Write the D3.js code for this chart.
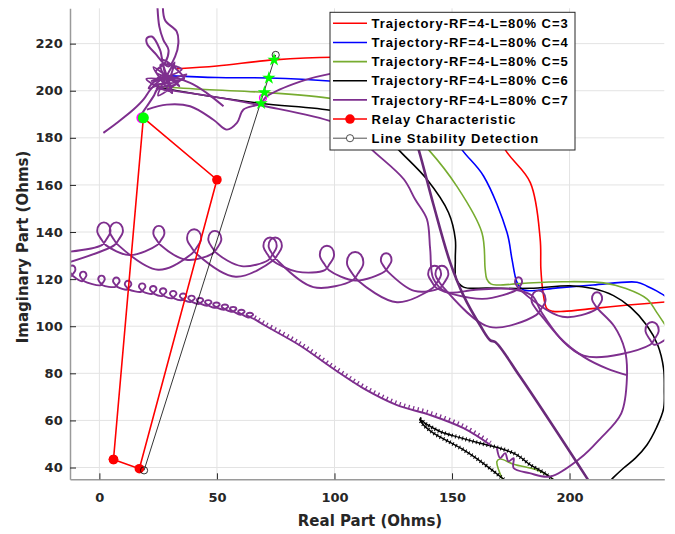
<!DOCTYPE html>
<html>
<head>
<meta charset="utf-8">
<script src="https://cdn.jsdelivr.net/npm/d3@7"></script>
<style>
  body { margin: 0; background: #fff; }
  .tick text { font-family: "DejaVu Sans", sans-serif; font-weight: bold; font-size: 13px; fill: #262626; }
  .axis-label { font-family: "DejaVu Sans", sans-serif; font-weight: bold; font-size: 15px; fill: #262626; }
  .legend text { font-family: "Liberation Sans", Arial, sans-serif; font-weight: bold; font-size: 13px; letter-spacing: 1px; fill: #000; }
</style>
</head>
<body>
<svg id="chart"></svg>
<script>
// ---- data (Real, Imag in Ohms) ----
const xTicks = [0, 50, 100, 150, 200];
const yTicks = [40, 60, 80, 100, 120, 140, 160, 180, 200, 220];

const legendLabels = [
  "Trajectory-RF=4-L=80% C=3", "Trajectory-RF=4-L=80% C=4", "Trajectory-RF=4-L=80% C=5",
  "Trajectory-RF=4-L=80% C=6", "Trajectory-RF=4-L=80% C=7",
  "Relay Characteristic", "Line Stability Detection"
];

const trajC3 = [[33,209.3],[50,210.5],[74.3,213.1],[99.5,214.2],[120,213.5],[140,210],[155,203],[165,192],
  [172.6,175],[183.3,161],[187.5,137],[187.8,124.3],[188.7,114.5],[190.4,107.4],[193,106.3],[197.4,106.3],
  [211.7,107.7],[225,109],[241,110.3]];
const trajC4 = [[30,206.3],[50,205.6],[72.1,205.4],[99.5,204],[120,202],[135,197],[146,188],[154.2,175],
  [163.4,163.8],[173.4,139.8],[175.5,128.5],[177.6,118.7],[179.5,116],[181.9,115.1],[195,116.3],[210,117.5],
  [228.7,118.7],[233,117],[237,115],[241,112.6]];
const trajC5 = [[23,202],[45,200.5],[70.2,199.3],[99.5,196.6],[115,193],[127,187],[134,181],[140,175],
  [152,159.5],[162.7,139.8],[164.1,124.3],[164.8,120],[166.5,118],[169.1,117.5],[180,118.2],[197.4,118.9],
  [214.5,118.4],[224,116],[232.9,111.6],[237,106],[241,100]];
const trajC5Tail = [[171.9,34],[169.1,42.6],[170.5,43.6],[176.2,41.4],[186.1,39],[190.4,36.9],[193,35]];
const trajC6 = [[24.4,201.6],[45,198],[68.8,194.6],[99.5,191.5],[112,188],[121,182],[127.2,175],[139.3,162.4],
  [148.5,148.3],[151.4,137],[151.4,128.5],[151.8,120],[154.9,116.6],[165,116.2],[183.3,116.1],[200.3,117.2],
  [210,116],[218.7,113],[226,108],[232.9,100.3],[237.5,92],[240,82],[240.3,73],[240,65],[237,57],
  [232.9,49.6],[228,44],[223,39.8],[218.7,35.8],[216,33]];
const trajC6Saw = [[172,35],[163,42],[154.9,47.5],[148,51.3],[142.1,54.6],[137.5,58.5],[136.3,60.6],[139,58.5],
  [144.9,55.3],[153,52.8],[162,50.3],[170,48.3],[176.2,46.1],[180,43.7],[183.3,41.1],[187,39],[190.4,36.9],[193,35]];

// C=7 pieces; a triple [x, loopTop, loopCrossing] marks a loop of the trajectory
const purpleKnot = [[24.7,235.6],[25.5,227.2],[27.2,221.6],[29.4,217.3],[28,212],[24,208],[33,204],[22,203],
  [35,209],[26,211],[30,200],[20,205],[36,205],[27,213],[31,199],[23,210],[34,202],[28,207],[21,201],[37,207],
  [25,198],[32,212],[29,204],[26.6,213.8],[25.8,217.3],[22.3,223],[20.2,222.3],[20.2,220.1],[23.7,215.9],
  [29.4,210.3],[32.2,214.5],[33.6,220.2],[32.9,225.1],[28,229.8],[27,235.6]];
const purpleLeft = [[1.7,182.1],[7.4,186.3],[14.5,192],[18.7,196.2],[21.6,200.4],[24.4,203.3],[29,206],
  [33,203],[25,201],[23,197.6],[20.2,193.4],[17.3,189.1]];
const purpleRight = [[22,204],[28.7,206],[38.6,203.3],[45.7,199],[52.8,193.4]];
const purpleA = [[20.2,192],[28.7,194.1],[38.6,193.4],[48.5,187.7],[54.2,183.5],[58.5,186.3],[61.3,192],
  [68.4,194.5],[71.2,197.6],[85.4,203.9],[99.6,207.5],[112,209],[124,203]];
const purpleThick = [[124,203],[131,190],[135.8,175],[142,152],[149.2,127.1],[154.9,113],[162,100.3],
  [166.3,94],[168.4,93.3],[179,78.5],[207.4,35.5],[209,33]];
const purpleB = [[24,201],[45,198],[70,193.5],[99.6,186.6],[110,181],[115.9,175],[129.5,162.4],[134.3,153.9],
  [139.3,145.5],[140.7,132.8],[142.1,120.1],[147.8,114.5],[160,115.5],[175,115.8],[184,113],[188,106],
  [196,95],[206,87],[216,82],[224.4,79.2]];
const purpleLoopsUpper = [[-13,131.6],[1.9,144.1,134.9],[13,130.2],[25.3,142.6,134.9],[37,128.2],
  [49.1,140.5,131.4],[60.5,125.5],[72.6,137.7,128.5],[84,123.2],[96.8,134.2,124.3],[109,119.4],
  [122,131,123.6],[134,115],[145.7,125.7,116.7],[166,99.7],[186.8,115.1,105.3],[206,87.5],
  [235.1,101.8,92.6],[241,94.5]];
const purpleLoopsLower = [[-13,127.1],[7.2,144.1,134.9],[25,124],[40.3,141.2,131.4],[58,121],
  [74.8,137.7,128.5],[91,116.6],[108.8,131.5,120.1],[126.6,110.2],[142.6,125.7,116.7],[163,111.6],
  [178.3,120.8,115.9],[197,104],[211.7,114.4,107.4],[219,100],[223.5,90],[224.4,78],[222,63],
  [213,52.2],[204.6,44],[191.8,36.2],[183,37.6],[176.2,39.8],[176.2,44],[174,42.6],[172.6,46.1],
  [170.5,44],[169.1,48.2]];
const purpleCurls = [[-13,122.8],[-11.6,125.8,121.5],[-6.9,123.2,119.3],[0.9,121.5,117.6],[7.2,120.7,116.9],
  [12.2,119.3,115.7],[18.2,118.2,114.8],[22.9,117.1,113.9],[27.1,116.1,113],[31.4,115,112],
  [35.6,113.9,111.2],[39.2,113,110.4],[42.8,112,109.6],[46.3,111.1,108.8],[49.8,110.1,107.9],
  [53.4,109.2,107.1],[56.9,108.2,106.2],[60.4,107,105],[64,105.7,103.8],[66,103]];
const purpleCurlsTail = [[66,103],[70.4,100.3],[85,92],[100,81.6],[112.3,73.6],[126.6,66.5],[140.7,62.3],
  [154.9,56.7],[166.3,49.6]];

const relayPts = [[6,43.4],[18.7,188.5],[50,162.2],[17,39.5],[6,43.4]];
const stabilityPts = [[19,38.8],[75,215.2]];
const detectPts = [[74.3,213.1],[72.1,205.4],[70.2,199.3],[68.8,194.6]];
const detectRelay = [18.7,188.5];

// ---- layout ----
const W = 675, H = 534;
const svg = d3.select("#chart").attr("width", W).attr("height", H);
const x = d3.scaleLinear().domain([-12.5, 240.3]).range([70, 664.3]);
const y = d3.scaleLinear().domain([35, 235]).range([479.3, 8.3]);

const grid = svg.append("g");
grid.selectAll("line.gx").data(xTicks).enter().append("line")
  .attr("x1", d => x(d)).attr("x2", d => x(d)).attr("y1", y(235)).attr("y2", y(35))
  .attr("stroke", "#e3e3e3").attr("stroke-width", 1);
grid.selectAll("line.gy").data(yTicks).enter().append("line")
  .attr("x1", x(-12.5)).attr("x2", x(240.3)).attr("y1", d => y(d)).attr("y2", d => y(d))
  .attr("stroke", "#e3e3e3").attr("stroke-width", 1);

svg.append("clipPath").attr("id", "clip").append("rect")
  .attr("x", 70).attr("y", 8.3).attr("width", 594.3).attr("height", 471);
const plot = svg.append("g").attr("clip-path", "url(#clip)");

const curve = d3.curveCatmullRom.alpha(0.5);
const line = d3.line().x(d => x(d[0])).y(d => y(d[1])).curve(curve);
const pxLine = d3.line().curve(curve);

// turn [x, top, crossing] entries into a drawn loop (pixel space)
function withLoops(pts) {
  const out = [];
  pts.forEach(p => {
    if (p.length === 2) { out.push([x(p[0]), y(p[1])]); return; }
    const cx = x(p[0]), ty = y(p[1]), cy = y(p[2]);
    const h = cy - ty, w = Math.max(h * 0.3, 3.2);
    out.push([cx - w * 0.3, cy + h * 0.05], [cx + w * 0.35, ty + h * 0.8], [cx + w, ty + h * 0.45],
      [cx + w * 0.7, ty + h * 0.1], [cx, ty], [cx - w * 0.7, ty + h * 0.1],
      [cx - w, ty + h * 0.45], [cx - w * 0.35, ty + h * 0.8], [cx + w * 0.3, cy + h * 0.05]);
  });
  return out;
}

function draw(data, color, width) {
  return plot.append("path").attr("d", line(data)).attr("fill", "none")
    .attr("stroke", color).attr("stroke-width", width).attr("stroke-linejoin", "round");
}
function drawLoops(data, color, width) {
  return plot.append("path").attr("d", pxLine(withLoops(data))).attr("fill", "none")
    .attr("stroke", color).attr("stroke-width", width).attr("stroke-linejoin", "round");
}

const purple = "#7E2F8E";
draw(trajC3, "#FF0000", 1.6);
draw(trajC4, "#0000FF", 1.6);
draw(trajC5, "#77AC30", 1.6);
draw(trajC5Tail, "#77AC30", 1.6);
draw(trajC6, "#000000", 1.6);
draw(trajC6Saw, "#000000", 1.4);
draw(trajC6Saw, "#000000", 4).attr("stroke-dasharray", "1,2.6");

drawLoops(purpleLoopsUpper, purple, 1.9);
drawLoops(purpleLoopsLower, purple, 1.9);
drawLoops(purpleCurls, purple, 1.9);
draw(purpleCurlsTail, purple, 1.9);
draw(purpleCurlsTail, purple, 4.5).attr("stroke-dasharray", "1.3,3.4").attr("transform", "translate(0,-2)");
draw(purpleB, purple, 1.9);
draw(purpleA, purple, 1.9);
draw(purpleThick, "#6A2A7A", 2.6);
draw(purpleRight, purple, 2);
draw(purpleLeft, purple, 2);
draw(purpleKnot, purple, 2);

// relay characteristic
const straight = d3.line().x(d => x(d[0])).y(d => y(d[1]));
plot.append("path").attr("d", straight(relayPts)).attr("fill", "none")
  .attr("stroke", "#FF0000").attr("stroke-width", 1.6);
plot.selectAll("circle.relay").data(relayPts).enter().append("circle")
  .attr("cx", d => x(d[0])).attr("cy", d => y(d[1])).attr("r", 4.8).attr("fill", "#FF0000");

// stability detection line
plot.append("path").attr("d", straight(stabilityPts)).attr("fill", "none")
  .attr("stroke", "#000").attr("stroke-width", 0.8);
plot.selectAll("circle.stab").data(stabilityPts).enter().append("circle")
  .attr("cx", d => x(d[0])).attr("cy", d => y(d[1])).attr("r", 3.6)
  .attr("fill", "none").attr("stroke", "#000").attr("stroke-width", 0.8);

// detection points
plot.append("circle").attr("cx", x(detectRelay[0]) - 1.5).attr("cy", y(detectRelay[1]))
  .attr("r", 5.5).attr("fill", "#FF00FF");
plot.append("circle").attr("cx", x(detectRelay[0])).attr("cy", y(detectRelay[1]))
  .attr("r", 5.5).attr("fill", "#00FF00");
plot.append("circle").attr("cx", x(69.6)).attr("cy", y(197)).attr("r", 3.5)
  .attr("fill", "none").attr("stroke", "#FF00FF").attr("stroke-width", 1.2);
const star = d3.symbol().type(d3.symbolStar).size(55);
plot.selectAll("path.star").data(detectPts).enter().append("path")
  .attr("d", star).attr("transform", d => `translate(${x(d[0])},${y(d[1])})`)
  .attr("fill", "#00FF00");

// axes
const xAxis = svg.append("g").attr("transform", `translate(0,${y(35)})`)
  .call(d3.axisBottom(x).tickValues(xTicks).tickSize(-6).tickSizeOuter(0).tickPadding(13.2));
const yAxis = svg.append("g").attr("transform", `translate(${x(-12.5)},0)`)
  .call(d3.axisLeft(y).tickValues(yTicks).tickSize(-6).tickSizeOuter(0).tickPadding(7.3));
[xAxis, yAxis].forEach(a => {
  a.select(".domain").attr("stroke", "#9a9a9a").attr("stroke-width", 1.5);
  a.selectAll(".tick line").attr("stroke", "#262626");
  a.attr("font-size", null).attr("font-family", null);
});

svg.append("text").attr("class", "axis-label").attr("x", 370).attr("y", 525.7)
  .attr("text-anchor", "middle").text("Real Part (Ohms)");
svg.append("text").attr("class", "axis-label").attr("text-anchor", "middle")
  .attr("transform", "translate(28,247) rotate(-90)").text("Imaginary Part (Ohms)");

// legend
const legendColors = ["#FF0000", "#0000FF", "#77AC30", "#000000", purple, "#FF0000", "#262626"];
const lg = svg.append("g").attr("class", "legend");
lg.append("rect").attr("x", 330).attr("y", 12.3).attr("width", 245).attr("height", 137.7)
  .attr("fill", "#fff").attr("stroke", "#262626").attr("stroke-width", 1);
const rows = lg.selectAll("g.row").data(legendLabels).enter().append("g")
  .attr("transform", (d, i) => `translate(0,${23.3 + i * 19.15})`);
rows.append("line").attr("x1", 333).attr("x2", 367).attr("y1", 0).attr("y2", 0)
  .attr("stroke", (d, i) => legendColors[i]).attr("stroke-width", (d, i) => i === 6 ? 0.8 : 1.6);
rows.filter((d, i) => i === 5).append("circle").attr("cx", 350).attr("cy", 0).attr("r", 4.8).attr("fill", "#FF0000");
rows.filter((d, i) => i === 6).append("circle").attr("cx", 350).attr("cy", 0).attr("r", 3.6)
  .attr("fill", "#fff").attr("stroke", "#262626").attr("stroke-width", 0.8);
rows.append("text").attr("x", 371.5).attr("y", 4.7).text(d => d);
</script>
</body>
</html>
